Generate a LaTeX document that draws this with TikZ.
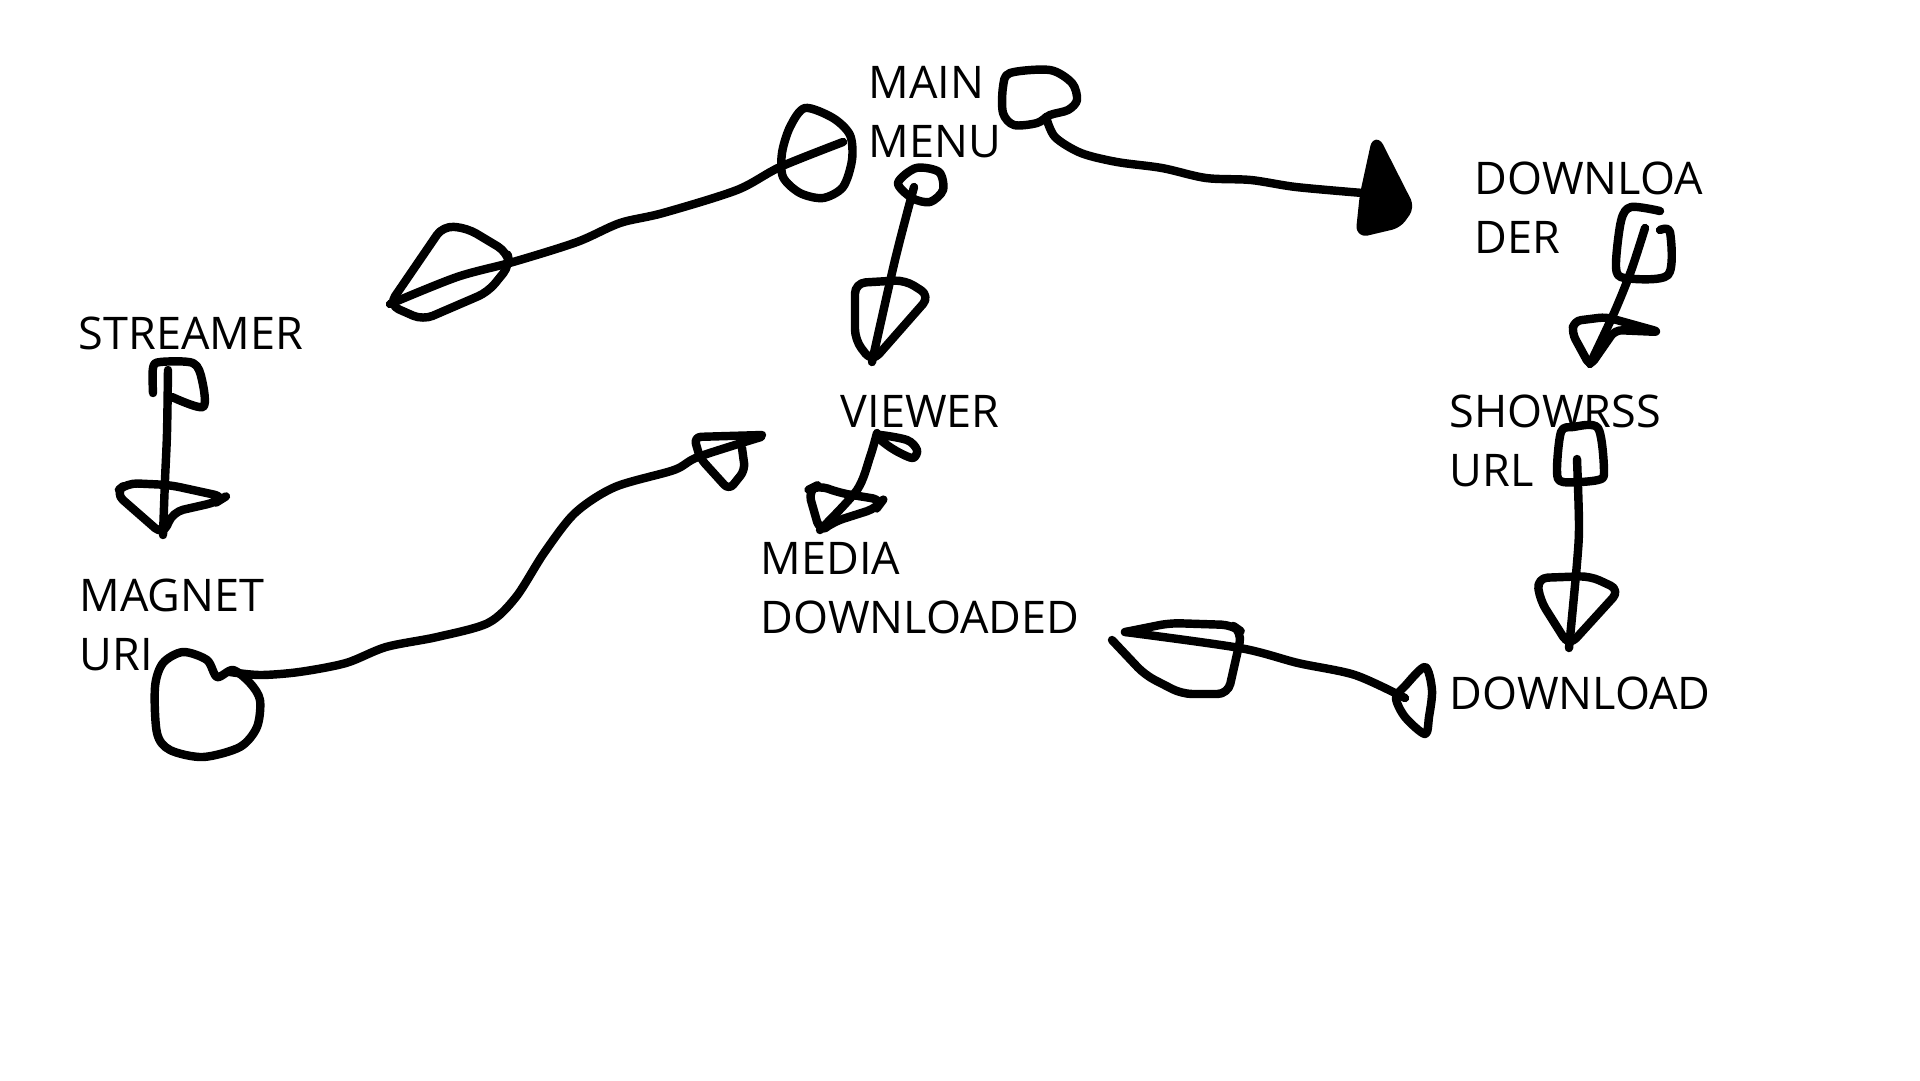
\documentclass[tikz,border=0pt]{standalone}
\usepackage{fontspec}
\setmainfont{Open Sans}
\tikzset{
  sketch/.style={line width=2.4pt, line cap=round, line join=round},
  lbl/.style={anchor=west, inner sep=0pt, align=left, font=\fontsize{12.8}{16.8}\selectfont}
}
\begin{document}
\begin{tikzpicture}[x=0.1mm, y=-0.1mm]
\useasboundingbox [fill=white] (0,0) rectangle (1920,1080);
\node[lbl] (menu) at (868,112) {MAIN\\MENU};
\node[lbl] (loader) at (1474,208) {DOWNLOA\\DER};
\node[lbl] (streamer) at (78,333) {STREAMER};
\node[lbl] (magnet) at (79,625) {MAGNET\\URI};
\node[lbl] (viewer) at (840,411) {VIEWER};
\node[lbl] (media) at (760,588) {MEDIA\\DOWNLOADED};
\node[lbl] (showrss) at (1449,441) {SHOWRSS\\URL};
\node[lbl] (download) at (1449,693) {DOWNLOAD};
\coordinate (menu-s) at (843,142); \coordinate (streamer-in) at (390,304);
\coordinate (menu-d) at (1046,117); \coordinate (loader-in) at (1363,193);
\coordinate (menu-v) at (914,187); \coordinate (viewer-in) at (872,362);
\coordinate (streamer-m) at (168,370); \coordinate (magnet-in) at (163,535);
\coordinate (magnet-v) at (230,672); \coordinate (viewer-in2) at (761,437);
\coordinate (viewer-m) at (877,433); \coordinate (media-in) at (820,530);
\coordinate (loader-s) at (1645,228); \coordinate (showrss-in) at (1590,364);
\coordinate (showrss-d) at (1577,459); \coordinate (download-in) at (1569,648);
\coordinate (download-m) at (1405,698); \coordinate (media-in2) at (1125,632);
\draw[sketch] plot[smooth cycle] coordinates {(805,108) (833,118) (850,135) (852,160) (843,187) (823,198) (800,193) (783,177) (782,153) (790,127)};
\draw[sketch] plot[smooth] coordinates {(menu-s) (780,167) (737,190) (663,213) (620,223) (577,242) (513,262) (457,277) (streamer-in)};
\draw[sketch, rounded corners=3pt] (389,305) -- (443,226) -- (467,228) -- (507,252) -- (510,265) -- (488,292) -- (423,320) -- cycle;
\draw[sketch] plot[smooth cycle] coordinates {(1010,73) (1050,70) (1072,83) (1077,100) (1068,110) (1050,115) (1037,123) (1014,125) (1003,113) (1003,87)};
\draw[sketch] plot[smooth] coordinates {(menu-d) (1055,137) (1081,153) (1117,162) (1162,168) (1206,178) (1251,180) (1296,187) (loader-in)};
\filldraw[sketch, rounded corners=2pt] (1376,140) -- (1410,207) -- (1398,224) -- (1360,233) -- (1364,195) -- cycle;
\draw[sketch] plot[smooth cycle] coordinates {(898,183) (916,168) (939,172) (943,190) (930,202) (912,198)};
\draw[sketch] plot[smooth] coordinates {(menu-v) (895,260) (viewer-in)};
\draw[sketch, rounded corners=3pt] (855,283) -- (905,280) -- (930,296) -- (872,362) -- (855,340) -- cycle;
\draw[sketch] plot[smooth] coordinates {(153,393) (153,368) (160,362) (193,363) (202,380) (203,407) (172,397)};
\draw[sketch] plot[smooth] coordinates {(streamer-m) (167,433) (165,480) (magnet-in)};
\draw[sketch, rounded corners=3pt] (163,535) -- (115,493) -- (127,483) -- (170,485) -- (225,497) -- (217,502) -- (173,512) -- cycle;
\draw[sketch] plot[smooth cycle] coordinates {(217,677) (207,660) (183,652) (163,663) (155,687) (157,733) (170,750) (203,757) (240,747) (257,727) (260,700) (250,683) (233,670)};
\draw[sketch] plot[smooth] coordinates {(magnet-v) (260,675) (299,672) (346,663) (386,647) (437,637) (488,623) (516,597) (544,553) (575,513) (615,487) (674,470) (698,457) (viewer-in2)};
\draw[sketch, rounded corners=2pt] (762,435) -- (694,437) -- (700,458) -- (729,490) -- (745,470) -- (742,448);
\draw[sketch] plot[smooth cycle] coordinates {(877,435) (907,440) (917,450) (913,458) (900,453) (887,445)};
\draw[sketch] plot[smooth] coordinates {(viewer-m) (870,457) (857,490) (media-in)};
\draw[sketch, rounded corners=3pt] (820,532) -- (808,490) -- (818,485) -- (840,493) -- (883,500) -- (877,508) -- (833,522) -- cycle;
\draw[sketch] plot[smooth] coordinates {(1660,211) (1631,207) (1621,221) (1616,267) (1625,278) (1668,275) (1670,232) (1660,230)};
\draw[sketch] plot[smooth] coordinates {(loader-s) (1631,271) (1614,313) (showrss-in)};
\draw[sketch, rounded corners=2pt] (1590,366) -- (1572,333) -- (1574,321) -- (1606,317) -- (1660,332) -- (1615,330) -- cycle;
\draw[sketch] plot[smooth cycle] coordinates {(1561,432) (1573,427) (1598,428) (1604,471) (1598,480) (1563,482) (1557,471)};
\draw[sketch] plot[smooth] coordinates {(showrss-d) (1579,525) (1577,563) (download-in)};
\draw[sketch, rounded corners=3pt] (1537,578) -- (1590,576) -- (1620,590) -- (1569,646) -- (1540,600) -- cycle;
\draw[sketch] plot[smooth cycle] coordinates {(1425,667) (1432,690) (1429,717) (1425,734) (1405,717) (1396,698) (1405,686)};
\draw[sketch] plot[smooth] coordinates {(download-m) (1355,675) (1298,663) (1240,648) (media-in2)};
\draw[sketch, rounded corners=3pt] (1112,640) -- (1145,675) -- (1182,694) -- (1228,694) -- (1242,632) -- (1232,625) -- (1170,623) -- (1125,632);
\end{tikzpicture}
\end{document}
